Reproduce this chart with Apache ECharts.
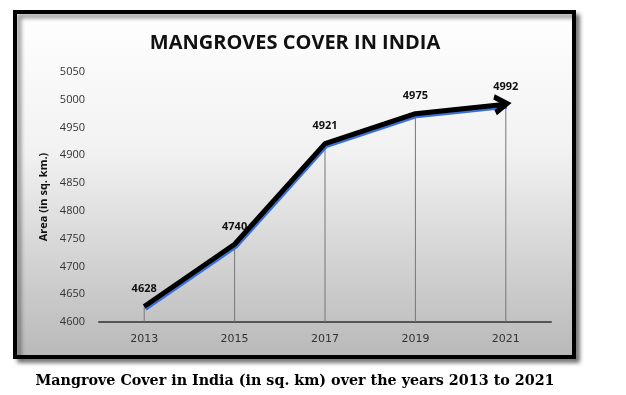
<!DOCTYPE html>
<html><head><meta charset="utf-8">
<script src="https://cdn.jsdelivr.net/npm/echarts@6/dist/echarts.min.js"></script>
<style>html,body{margin:0;padding:0;background:#fff;}#c{width:626px;height:395px;}</style>
</head><body><div id="c"></div>
<script>
const years = ['2013','2015','2017','2019','2021'];
const cover = [4628, 4740, 4921, 4975, 4992];
const yTicks = {min: 4600, max: 5050, interval: 50};

const chart = echarts.init(document.getElementById('c'));
const lineData = cover.map((v, i) => i === cover.length - 1 ? {
  value: v,
  symbol: 'path://M0,0L10,6L0,12',
  symbolSize: [12, 16],
  symbolOffset: [-5, 0],
  symbolRotate: 6,
  itemStyle: {color: 'none', borderColor: '#000', borderWidth: 5}
} : v);

chart.setOption({
  animation: false,
  graphic: [
    {type: 'rect', z: -10, shape: {x: 15, y: 12, width: 559, height: 345},
     style: {fill: new echarts.graphic.LinearGradient(0, 0, 0, 1, [
       {offset: 0, color: '#ffffff'}, {offset: 0.4, color: '#f2f2f2'}, {offset: 1, color: '#b8b8b8'}]),
       stroke: '#000', lineWidth: 4, shadowColor: 'rgba(0,0,0,0.45)', shadowBlur: 4, shadowOffsetX: 4, shadowOffsetY: 4}},
    {type: 'text', x: 295, y: 374, style: {text: 'Mangrove Cover in India (in sq. km) over the years 2013 to 2021',
      font: 'bold 14.3px "DejaVu Serif"', fill: '#000', textAlign: 'center'}},
  ],
  title: {text: 'MANGROVES COVER IN INDIA', left: 290, textAlign: 'center', top: 28,
    textStyle: {fontFamily: 'Open Sans', fontWeight: 'bold', fontSize: 20, color: '#111'}},
  grid: {left: 99, right: 75, top: 72, bottom: 73, containLabel: false, outerBoundsMode: 'none'},
  xAxis: {type: 'category', data: years, boundaryGap: true,
    axisLine: {lineStyle: {color: '#555', width: 2}}, axisTick: {show: false},
    axisLabel: {color: '#333', fontSize: 11, fontFamily: 'DejaVu Sans', margin: 12}},
  yAxis: {type: 'value', min: yTicks.min, max: yTicks.max, interval: yTicks.interval,
    name: 'Area (in sq. km.)', nameLocation: 'middle', nameGap: 48, nameRotate: 90,
    nameTextStyle: {fontWeight: 'bold', fontSize: 11, color: '#111', fontFamily: 'Open Sans'},
    axisLine: {show: false}, axisTick: {show: false}, splitLine: {show: false},
    axisLabel: {color: '#333', fontSize: 11, fontFamily: 'Open Sans', margin: 14, formatter: v => String(v)}},
  series: [
    {type: 'bar', data: cover, barWidth: 1, z: 1, itemStyle: {color: '#777'},
     label: {show: true, position: 'top', distance: 12, fontWeight: 'bold', fontSize: 11, fontFamily: 'Open Sans', color: '#111'}},
    {type: 'line', data: lineData, symbol: 'none', z: 3,
     lineStyle: {color: '#000', width: 5, shadowColor: '#3d6fd8', shadowBlur: 0, shadowOffsetX: 1, shadowOffsetY: 2}}
  ]
});
</script></body></html>
